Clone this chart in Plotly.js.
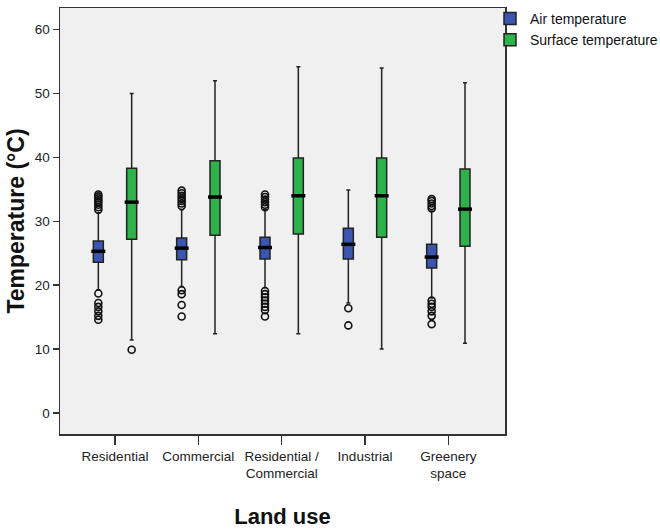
<!DOCTYPE html>
<html>
<head>
<meta charset="utf-8">
<script src="https://cdn.plot.ly/plotly-3.0.1.min.js"></script>
<style>html,body{margin:0;padding:0;background:#fff;}#chart{width:660px;height:529px;}</style>
</head>
<body>
<div id="chart"></div>
<script>
// ---- data ----
var categories = ['Residential', 'Commercial', 'Residential /<br>Commercial', 'Industrial', 'Greenery<br>space'];

var airLowerFence = [19.3, 19.8, 19.6, 17.2, 18.0];
var airQ1         = [23.6, 24.0, 24.1, 24.1, 22.7];
var airMedian     = [25.3, 25.8, 25.9, 26.4, 24.4];
var airQ3         = [26.9, 27.4, 27.5, 28.9, 26.4];
var airUpperFence = [31.3, 31.8, 31.8, 34.9, 31.6];
var airOutliers = [
  [31.8, 32.2, 32.6, 33.0, 33.3, 33.6, 33.9, 34.2, 18.7, 17.2, 16.6, 15.9, 15.2, 14.6],
  [32.4, 32.8, 33.2, 33.6, 34.0, 34.4, 34.8, 19.2, 18.6, 16.9, 15.1],
  [32.2, 32.6, 33.0, 33.4, 33.8, 34.2, 19.1, 18.6, 18.1, 17.6, 17.1, 16.6, 16.1, 15.1],
  [16.4, 13.7],
  [32.0, 32.4, 32.8, 33.2, 33.5, 17.6, 17.1, 16.6, 15.9, 15.2, 13.9]
];

var surfLowerFence = [11.4, 12.4, 12.4, 10.0, 10.9];
var surfQ1         = [27.2, 27.8, 28.0, 27.5, 26.1];
var surfMedian     = [33.0, 33.8, 34.0, 34.0, 31.9];
var surfQ3         = [38.3, 39.5, 39.9, 39.9, 38.2];
var surfUpperFence = [50.0, 52.0, 54.2, 54.0, 51.7];
var surfOutliers = [[9.9], [], [], [], []];

var yTicks = [0, 10, 20, 30, 40, 50, 60];

// ---- styling ----
var BLUE = '#3a56b0', GREEN = '#2eb34a';
var SANS = '"Liberation Sans", Arial, sans-serif';
var OFFSET = 0.2, BOXW = 0.12;

var idx = categories.map(function (c, i) { return i; });
var airX = idx.map(function (i) { return i - OFFSET; });
var surfX = idx.map(function (i) { return i + OFFSET; });

function boxTrace(name, xs, lf, q1, med, q3, uf, color) {
  return {
    type: 'box', name: name, x: xs,
    lowerfence: lf, q1: q1, median: med, q3: q3, upperfence: uf,
    width: BOXW, whiskerwidth: 0.4, boxpoints: false,
    fillcolor: color, line: {color: '#222', width: 1.5},
    hoverinfo: 'skip', showlegend: true
  };
}
function medianTrace(xs, med) {
  return {
    type: 'scatter', mode: 'markers', x: xs, y: med, showlegend: false, hoverinfo: 'skip',
    marker: {symbol: 'line-ew', size: 10, color: '#000', line: {color: '#000', width: 3.5}}
  };
}
function outlierTrace(xs, outs) {
  var ox = [], oy = [];
  outs.forEach(function (arr, i) { arr.forEach(function (v) { ox.push(xs[i]); oy.push(v); }); });
  return {
    type: 'scatter', mode: 'markers', x: ox, y: oy, showlegend: false, hoverinfo: 'skip',
    marker: {symbol: 'circle-open', size: 7, color: '#111', line: {color: '#111', width: 1.6}}
  };
}

var data = [
  boxTrace('Air temperature', airX, airLowerFence, airQ1, airMedian, airQ3, airUpperFence, BLUE),
  boxTrace('Surface temperature', surfX, surfLowerFence, surfQ1, surfMedian, surfQ3, surfUpperFence, GREEN),
  medianTrace(airX, airMedian),
  medianTrace(surfX, surfMedian),
  outlierTrace(airX, airOutliers),
  outlierTrace(surfX, surfOutliers)
];

var axisCommon = {
  showline: true, linecolor: '#333', linewidth: 1.5, mirror: true,
  ticks: 'outside', tickcolor: '#333', tickwidth: 1.5,
  showgrid: false, zeroline: false, fixedrange: true, automargin: false,
  tickfont: {family: SANS, size: 13.5, color: '#222'}
};

var layout = {
  width: 660, height: 529,
  margin: {l: 60, r: 155, t: 8, b: 95, autoexpand: false},
  paper_bgcolor: '#ffffff', plot_bgcolor: '#f0f0f0',
  showlegend: true,
  legend: {
    x: (490 - 60) / 445, xanchor: 'left', y: 1.012, yanchor: 'top',
    bgcolor: 'rgba(0,0,0,0)', borderwidth: 0, tracegroupgap: 0,
    font: {family: SANS, size: 14, color: '#111'}
  },
  xaxis: Object.assign({}, axisCommon, {
    range: [-0.66, 4.68], tickmode: 'array', tickvals: idx, ticktext: categories,
    ticklen: 9, tickangle: 0,
    title: {text: 'Land use', font: {family: SANS, size: 22, color: '#111', weight: 'bold'}, standoff: 28}
  }),
  yaxis: Object.assign({}, axisCommon, {
    range: [-3.3, 63.4], tickmode: 'array', tickvals: yTicks, ticklen: 6,
    title: {text: 'Temperature (°C)', font: {family: SANS, size: 23, color: '#111', weight: 'bold'}, standoff: 3}
  })
};

Plotly.newPlot('chart', data, layout, {displayModeBar: false, staticPlot: true});
</script>
</body>
</html>
